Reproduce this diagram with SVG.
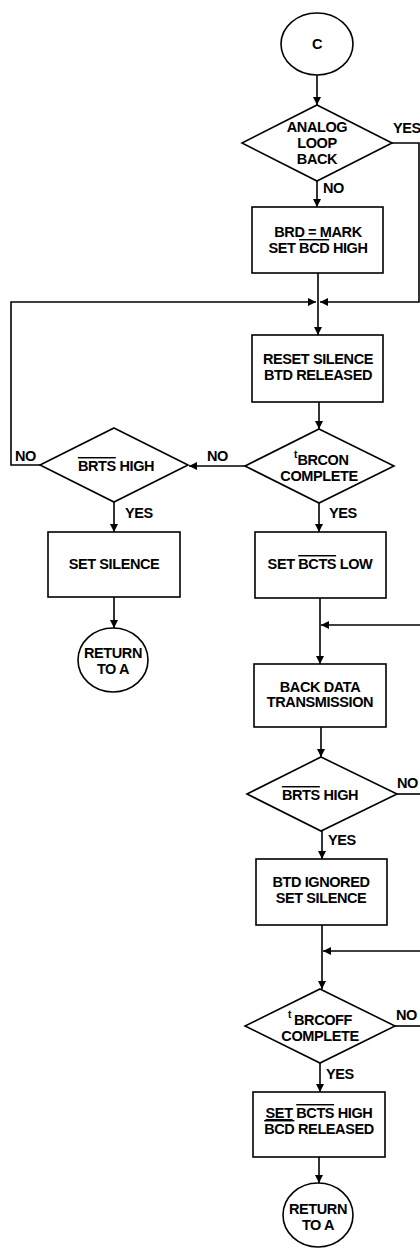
<svg xmlns="http://www.w3.org/2000/svg" width="420" height="1250" viewBox="0 0 420 1250">
<style>
.s{fill:#fff;stroke:#000;stroke-width:1.6}
.c{fill:none;stroke:#000;stroke-width:1.6}
text{font-family:"Liberation Sans",Arial,sans-serif;font-weight:bold;font-size:14.5px;letter-spacing:-0.4px;fill:#000;text-anchor:middle}
.l{text-anchor:start}
.sup{font-size:10px;text-anchor:start}
.ov{text-decoration:overline}
.un{text-decoration:underline}
</style>
<defs>
<marker id="ah" viewBox="0 0 10 10" refX="10" refY="5" markerWidth="8" markerHeight="8" markerUnits="userSpaceOnUse" orient="auto">
<path d="M0,0 L10,5 L0,10 z" fill="#000"/>
</marker>
</defs>
<g id="connectors">
<path class="c" d="M317,75 V105" marker-end="url(#ah)"/>
<path class="c" d="M317,181 V207" marker-end="url(#ah)"/>
<path class="c" d="M318,273 V335" marker-end="url(#ah)"/>
<path class="c" d="M392,143 H419 V302 H320" marker-end="url(#ah)"/>
<path class="c" d="M40,465 H11 V302 H316" marker-end="url(#ah)"/>
<path class="c" d="M319,402 V429" marker-end="url(#ah)"/>
<path class="c" d="M245,466 H189" marker-end="url(#ah)"/>
<path class="c" d="M319,503 V532" marker-end="url(#ah)"/>
<path class="c" d="M114,502 V532" marker-end="url(#ah)"/>
<path class="c" d="M114,597 V628" marker-end="url(#ah)"/>
<path class="c" d="M320,598 V664" marker-end="url(#ah)"/>
<path class="c" d="M420,625 H321" marker-end="url(#ah)"/>
<path class="c" d="M321,727 V757" marker-end="url(#ah)"/>
<path class="c" d="M397,794 H420"/>
<path class="c" d="M322,831 V859" marker-end="url(#ah)"/>
<path class="c" d="M322,925 V989" marker-end="url(#ah)"/>
<path class="c" d="M420,951 H323" marker-end="url(#ah)"/>
<path class="c" d="M395,1026 H420"/>
<path class="c" d="M320,1063 V1092" marker-end="url(#ah)"/>
<path class="c" d="M319,1157 V1183" marker-end="url(#ah)"/>
</g>
<g id="labels">
<text class="l" x="393" y="133">YES</text>
<text class="l" x="323" y="193">NO</text>
<text class="l" x="207" y="461">NO</text>
<text class="l" x="15" y="461">NO</text>
<text class="l" x="329" y="518">YES</text>
<text class="l" x="125" y="518">YES</text>
<text class="l" x="397" y="788">NO</text>
<text class="l" x="328" y="845">YES</text>
<text class="l" x="396" y="1020">NO</text>
<text class="l" x="326" y="1079">YES</text>
</g>
<g id="start">
<ellipse class="s" cx="317" cy="44" rx="36" ry="31"/>
<text x="317" y="49">C</text>
</g>
<g id="analog-loop-back">
<polygon class="s" points="317,105 392,143 317,181 242,143"/>
<text x="317" y="132">ANALOG</text>
<text x="317" y="148">LOOP</text>
<text x="317" y="164">BACK</text>
</g>
<g id="brd-mark">
<rect class="s" x="252" y="207" width="131" height="66"/>
<text x="318" y="237">BRD = MARK</text>
<text x="318" y="253">SET <tspan class="ov">BCD</tspan> HIGH</text>
</g>
<g id="reset-silence">
<rect class="s" x="252" y="335" width="131" height="67"/>
<text x="318" y="364">RESET SILENCE</text>
<text x="318" y="380">BTD RELEASED</text>
</g>
<g id="brcon-complete">
<polygon class="s" points="319,429 394,466 319,503 245,466"/>
<text class="sup" x="294" y="458">t</text>
<text x="323" y="465">BRCON</text>
<text x="319" y="481">COMPLETE</text>
</g>
<g id="brts-high-left">
<polygon class="s" points="114,428 188,465 114,502 40,465"/>
<text x="116" y="471"><tspan class="ov">BRTS</tspan> HIGH</text>
</g>
<g id="set-silence">
<rect class="s" x="48" y="532" width="132" height="65"/>
<text x="114" y="569">SET SILENCE</text>
</g>
<g id="return-a-1">
<ellipse class="s" cx="113" cy="660" rx="35" ry="32"/>
<text x="113" y="658">RETURN</text>
<text x="113" y="674">TO A</text>
</g>
<g id="set-bcts-low">
<rect class="s" x="255" y="532" width="131" height="66"/>
<text x="320" y="569">SET <tspan class="ov">BCTS</tspan> LOW</text>
</g>
<g id="back-data">
<rect class="s" x="254" y="664" width="132" height="63"/>
<text x="320" y="692">BACK DATA</text>
<text x="320" y="707">TRANSMISSION</text>
</g>
<g id="brts-high-right">
<polygon class="s" points="321,757 397,794 321,831 247,794"/>
<text x="320" y="800"><tspan class="ov">BRTS</tspan> HIGH</text>
</g>
<g id="btd-ignored">
<rect class="s" x="256" y="859" width="131" height="66"/>
<text x="321" y="887">BTD IGNORED</text>
<text x="321" y="903">SET SILENCE</text>
</g>
<g id="brcoff-complete">
<polygon class="s" points="320,989 395,1026 320,1063 245,1026"/>
<text class="sup" x="288" y="1018">t</text>
<text x="323" y="1025">BRCOFF</text>
<text x="320" y="1041">COMPLETE</text>
</g>
<g id="set-bcts-high">
<rect class="s" x="253" y="1092" width="132" height="65"/>
<text x="319" y="1118"><tspan class="un">SET</tspan> <tspan class="ov">BCTS</tspan> HIGH</text>
<text x="319" y="1134"><tspan class="ov">BCD</tspan> RELEASED</text>
</g>
<g id="return-a-2">
<ellipse class="s" cx="318" cy="1215" rx="35" ry="32"/>
<text x="318" y="1214">RETURN</text>
<text x="318" y="1230">TO A</text>
</g>
</svg>
